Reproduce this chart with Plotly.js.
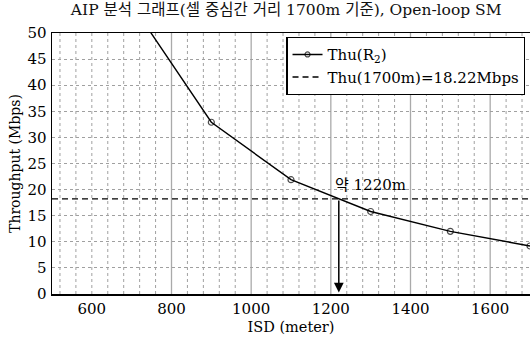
<!DOCTYPE html>
<html><head><meta charset="utf-8">
<script src="https://cdn.plot.ly/plotly-3.0.1.min.js"></script>
<style>body{margin:0;background:#fff}#c{width:530px;height:342px}</style>
</head><body><div id="c"></div>
<script>
const isd = [700, 900, 1100, 1300, 1500, 1700];
const thu = [55.5, 32.9, 21.9, 15.8, 12.0, 9.2];
const markerIsd = [900, 1100, 1300, 1500, 1700];
const refValue = 18.22;
const crossIsd = 1220;
const xMajorGrid = [800, 1000, 1200, 1400, 1600];

const F = 'DejaVu Serif, Noto Sans CJK KR';
const markerSize = isd.map(v => markerIsd.includes(v) ? 6 : 0);

const shapes = [];
for (let gx = 520; gx < 1700; gx += 40) {
  const major = xMajorGrid.includes(gx);
  shapes.push({type: 'line', xref: 'x', yref: 'paper', x0: gx, x1: gx, y0: 0, y1: 1, layer: 'below',
               line: {color: major ? '#aaa' : '#a0a0a0', width: major ? 1.3 : 1, dash: major ? 'solid' : 'dot'}});
}

const traces = [
  {x: isd, y: thu, mode: 'lines+markers', name: 'Thu(R<sub>2</sub>)',
   line: {color: '#000', width: 1.4},
   marker: {symbol: 'circle-open', size: markerSize, color: '#000', line: {width: 1.2}}},
  {x: [500, 1700], y: [refValue, refValue], mode: 'lines', name: 'Thu(1700m)=18.22Mbps',
   line: {color: '#000', width: 1.4, dash: '6px,4px'}}
];

const layout = {
  width: 530, height: 342,
  margin: {l: 52, r: 0, t: 33, b: 48},
  paper_bgcolor: '#fff', plot_bgcolor: '#fff',
  font: {family: F, color: '#000', size: 15},
  title: {text: 'AIP 분석 그래프(셀 중심간 거리 1700m 기준), Open-loop SM',
          font: {family: F, size: 15.5, color: '#111'}, x: 0.54, xanchor: 'center', y: 0.972, yanchor: 'middle'},
  xaxis: {range: [500, 1700], tickmode: 'linear', tick0: 600, dtick: 200, ticks: '', showgrid: false,
          showline: true, linecolor: '#000', linewidth: 1.5, mirror: true, zeroline: false,
          tickfont: {family: F, size: 15},
          title: {text: 'ISD (meter)', font: {family: F, size: 14.5}, standoff: 5}},
  yaxis: {range: [0, 50], tickmode: 'linear', tick0: 0, dtick: 5, ticks: '', showgrid: true, gridcolor: '#a0a0a0', griddash: 'dot', gridwidth: 1,
          showline: true, linecolor: '#000', linewidth: 1.5, mirror: true, zeroline: false,
          tickfont: {family: F, size: 15}, ticklabelstandoff: 1,
          title: {text: 'Throughput (Mbps)', font: {family: F, size: 14}, standoff: 3}},
  shapes: shapes,
  showlegend: true,
  legend: {x: 0.99, y: 0.985, xanchor: 'right', yanchor: 'top', bordercolor: '#000', borderwidth: 1.3,
           bgcolor: '#fff', font: {family: F, size: 15}, tracegroupgap: 0, itemwidth: 30},
  annotations: [
    {x: crossIsd, y: 0.3, xref: 'x', yref: 'y', ax: crossIsd, ay: refValue, axref: 'x', ayref: 'y',
     showarrow: true, arrowhead: 2, arrowsize: 1.3, arrowwidth: 1.5, arrowcolor: '#000', text: ''},
    {x: crossIsd - 15, y: 20.8, xref: 'x', yref: 'y', text: '약 1220m', showarrow: false,
     xanchor: 'left', yanchor: 'middle', font: {family: F, size: 15}}
  ]
};
Plotly.newPlot('c', traces, layout, {staticPlot: true});
</script></body></html>
